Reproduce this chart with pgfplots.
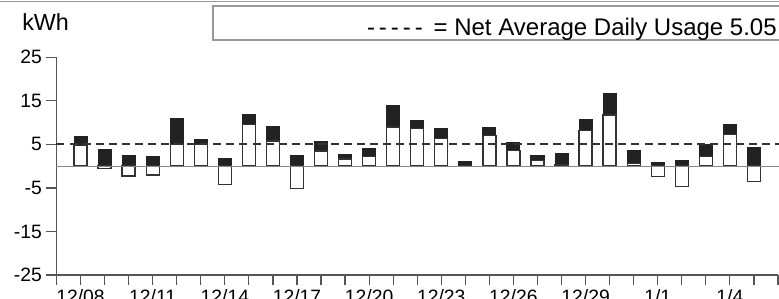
\documentclass[border=0pt]{standalone}
\usepackage{pgfplots}
\pgfplotsset{compat=1.18}
\usepackage{fontspec}
\setmainfont{Liberation Sans}
\definecolor{barblack}{HTML}{222222}
\definecolor{baredge}{HTML}{333333}
\definecolor{axisgray}{HTML}{555555}
\definecolor{zerogray}{HTML}{888888}
\definecolor{framegray}{HTML}{999999}
\pgfplotstableread{
x w top
0 4.8 6.8
1 -0.6 3.8
2 -2.3 2.5
3 -2.0 2.3
4 4.9 11.0
5 4.9 6.2
6 -4.2 1.7
7 9.5 11.8
8 5.8 9.0
9 -5.2 2.4
10 3.5 5.6
11 1.65 2.7
12 2.2 4.0
13 9.0 13.9
14 8.7 10.4
15 6.4 8.7
16 0 1.0
17 7.0 8.85
18 3.65 5.5
19 1.35 2.5
20 0.3 3.0
21 8.15 10.6
22 11.75 16.6
23 0.6 3.5
24 -2.4 0.9
25 -4.7 1.35
26 2.2 5.0
27 7.2 9.6
28 -3.55 4.25
}\datatable
\begin{document}
\begin{tikzpicture}[x=0.75pt,y=0.75pt]
\begin{axis}[
  at={(0,0)}, anchor=south west,
  scale only axis,
  width=541.1pt, height=163.3pt,
  xmin=-1, xmax=29, ymin=-25, ymax=25,
  axis x line=bottom, axis y line=left,
  axis line style={-, draw=axisgray, line width=0.9pt},
  xtick={-1,...,29},
  xticklabels={,12/08,,,12/11,,,12/14,,,12/17,,,12/20,,,12/23,,,12/26,,,12/29,,,1/1,,,1/4,,},
  ytick={-25,-15,-5,5,15,25},
  tick align=outside,
  major tick length=7.5pt,
  tick style={draw=axisgray, line width=0.9pt},
  tick label style={font=\fontsize{14.5}{16}\selectfont, text=black},
  /pgf/number format/assume math mode=true,
  clip=false,
  ybar, bar width=0.54, bar shift=0pt,
]
\addplot[ybar, draw=barblack, fill=barblack, line width=0.8pt] table[x=x, y=top] {\datatable};
\addplot[ybar, draw=baredge, fill=white, line width=1pt] table[x=x, y=w] {\datatable};
\addplot[sharp plot, draw=zerogray, line width=0.9pt] coordinates {(-1,0) (29.2,0)};
\addplot[sharp plot, draw=baredge, line width=1.5pt, dash pattern=on 6pt off 3.8pt] coordinates {(-1,5.05) (29.2,5.05)};
\end{axis}
% top frame and legend box
\draw[framegray, line width=1pt] (-60,273.5) -- (730,273.5);
\draw[framegray, line width=1.2pt] (156.5,269) rectangle (740,235);
\node[anchor=base east, inner sep=0pt, font=\fontsize{18}{21}\selectfont] at (720.5,240) {-\,-\,-\,-\,-\, = Net Average Daily Usage 5.05};
\node[anchor=base west, inner sep=0pt, font=\fontsize{17.5}{20}\selectfont] at (-34.5,245) {kWh};
\pgfresetboundingbox
\useasboundingbox (-56.5,-23) rectangle (722.5,275);
\end{tikzpicture}
\end{document}
